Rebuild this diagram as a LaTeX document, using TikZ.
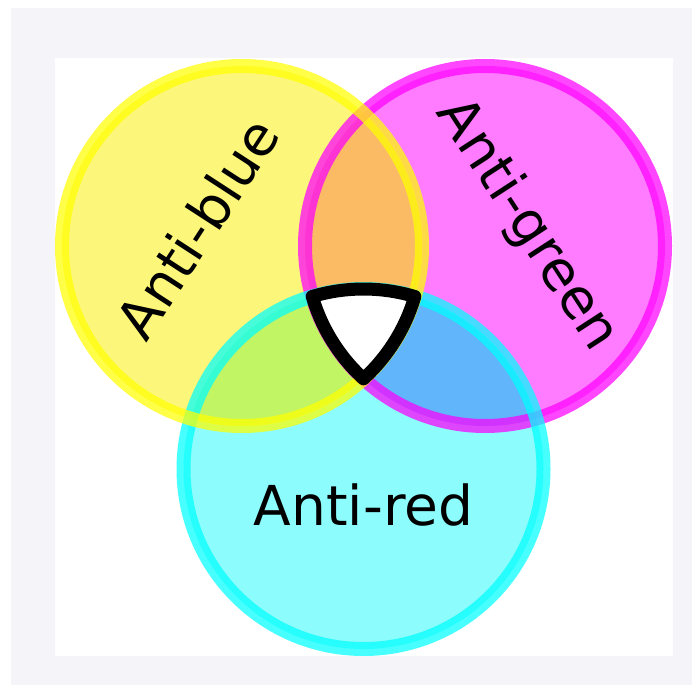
\documentclass[tikz,border=0pt]{standalone}
\usepackage{fontspec}
\setmainfont{DejaVu Sans}
\definecolor{bggrey}{RGB}{244,244,249}
\definecolor{yfill}{RGB}{252,247,122}
\definecolor{mfill}{RGB}{255,123,255}
\definecolor{cfill}{RGB}{140,252,252}
\definecolor{ymfill}{RGB}{251,187,100}
\definecolor{ycfill}{RGB}{194,245,100}
\definecolor{mcfill}{RGB}{96,181,251}
\definecolor{yring}{RGB}{255,255,0}
\definecolor{mring}{RGB}{255,0,255}
\definecolor{cring}{RGB}{0,255,255}
\begin{document}
\begin{tikzpicture}[x=1pt,y=1pt,
  ring/.style={line width=14pt,draw opacity=0.72},
  label/.style={font=\fontsize{55}{60}\selectfont,text=black,inner sep=0pt}]
\useasboundingbox (0,0) rectangle (692,685);
\fill[bggrey] (11,0) rectangle (692,677);
\fill[white] (55,29) rectangle (673,627);
\coordinate (Y) at (242,439);
\coordinate (M) at (485,439);
\coordinate (C) at (363.5,216);
\def\R{180pt}
% fills
\fill[mfill] (M) circle[radius=\R];
\fill[cfill] (C) circle[radius=\R];
\fill[yfill] (Y) circle[radius=\R];
\begin{scope}\clip (Y) circle[radius=\R]; \fill[ymfill] (M) circle[radius=\R];\end{scope}
\begin{scope}\clip (Y) circle[radius=\R]; \fill[ycfill] (C) circle[radius=\R];\end{scope}
\begin{scope}\clip (M) circle[radius=\R]; \fill[mcfill] (C) circle[radius=\R];\end{scope}
% rings
\draw[ring,mring] (M) circle[radius=\R];
\draw[ring,cring] (C) circle[radius=\R];
\draw[ring,yring] (Y) circle[radius=\R];
% triple intersection
\coordinate (TL) at (312.2,388.5);
\draw[fill=white,draw=black,line width=13pt,line join=round]
  (TL) arc[start angle=106.56,end angle=73.44,radius=\R]
       arc[start angle=-16.29,end angle=-47.54,radius=\R]
       arc[start angle=227.54,end angle=196.29,radius=\R] -- cycle;
% labels
\node[label,rotate=57] (lb) at (197,457) {Anti-blue};
\node[label,rotate=-57] (lg) at (527,460) {Anti-green};
\node[label,anchor=base] (lr) at (363.5,160) {Anti-red};
\end{tikzpicture}
\end{document}
